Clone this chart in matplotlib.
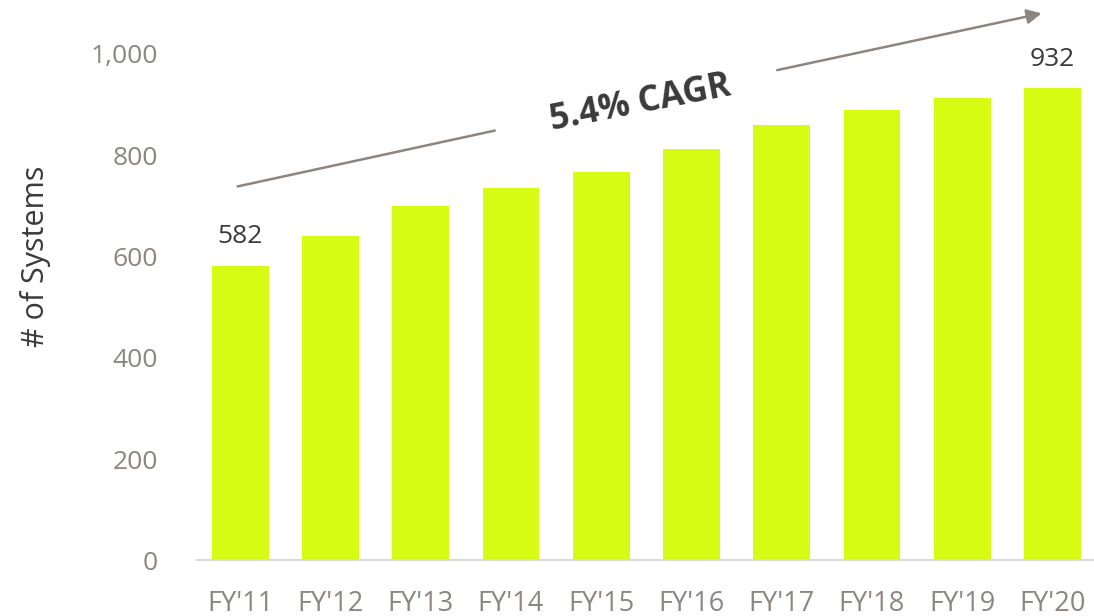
import matplotlib

matplotlib.use("Agg")

import matplotlib.pyplot as plt
from matplotlib import font_manager

years = ["FY'11", "FY'12", "FY'13", "FY'14", "FY'15", "FY'16", "FY'17", "FY'18", "FY'19", "FY'20"]
systems = [582, 641, 700, 735, 766, 813, 860, 889, 913, 932]
labelled = {0: "582", 9: "932"}
yticks = [0, 200, 400, 600, 800, 1000]
ytick_labels = ["0", "200", "400", "600", "800", "1,000"]
cagr_text = "5.4% CAGR"

# arrow path, in data units (start, gap start, gap end, tip)
arrow_x = [-0.04, 2.83, 5.95, 8.88]
arrow_y = [738, 849, 968, 1080]

BAR = "#D5FC12"
GREY = "#8C8580"
DARK = "#3A3A3A"

available = {f.name for f in font_manager.fontManager.ttflist}
narrow = "Liberation Sans Narrow" if "Liberation Sans Narrow" in available else "Open Sans"
plt.rcParams["font.family"] = ["Open Sans", "DejaVu Sans"]

fig = plt.figure(figsize=(10.94, 6.16), dpi=100)
ax = fig.add_axes([0.180, 0.0901, 0.820, 0.8224])

x = list(range(len(years)))
ax.bar(x, systems, width=0.63, color=BAR, zorder=2)

for i, text in labelled.items():
    ax.annotate(text, (i, systems[i]), xytext=(0, 12), textcoords="offset points",
                ha="center", va="bottom", fontsize=19, color=DARK)

ax.set_xlim(-0.48, 9.46)
ax.set_ylim(0, 1000)
ax.set_yticks(yticks)
ax.set_yticklabels(ytick_labels)
ax.set_xticks(x)
ax.set_xticklabels(years, family=[narrow, "DejaVu Sans"])
ax.tick_params(axis="y", length=0, pad=28, labelsize=19, labelcolor=GREY)
ax.tick_params(axis="x", length=0, pad=21, labelsize=19.5, labelcolor=GREY)

for side in ("top", "right", "left"):
    ax.spines[side].set_visible(False)
ax.spines["bottom"].set_color("#D9D9D9")
ax.spines["bottom"].set_linewidth(1.5)

ax.set_ylabel("# of Systems", fontsize=22, color=DARK, labelpad=0)
ax.yaxis.set_label_coords(-0.163, 0.60)

# CAGR arrow, split around the text
ax.plot(arrow_x[:2], arrow_y[:2], color=GREY, lw=1.8, clip_on=False, solid_capstyle="butt")
ax.annotate("", xy=(arrow_x[3], arrow_y[3]), xytext=(arrow_x[2], arrow_y[2]),
            annotation_clip=False,
            arrowprops=dict(arrowstyle="-|>", color=GREY, lw=1.8,
                            mutation_scale=22, shrinkA=0, shrinkB=0))
ax.text(4.43, 902, cagr_text, rotation=11, ha="center", va="center",
        fontsize=25, fontweight="bold", color=DARK, rotation_mode="anchor")

fig.savefig("out.png", dpi=100)
